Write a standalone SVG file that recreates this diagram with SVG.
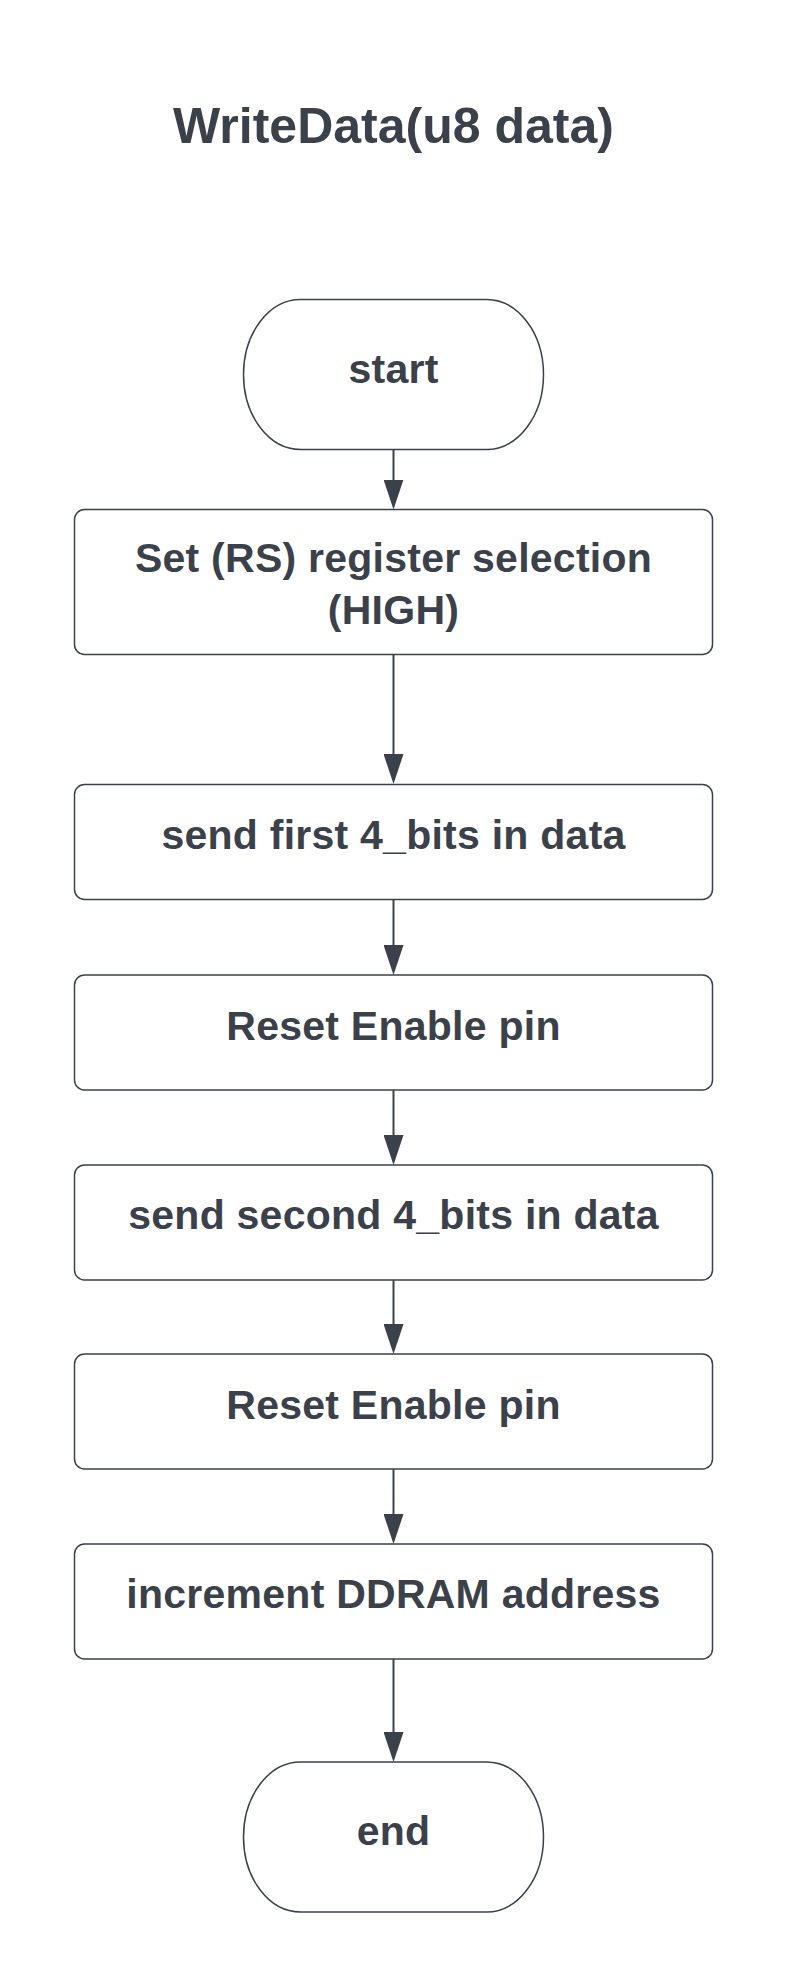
<svg xmlns="http://www.w3.org/2000/svg" width="788" height="1988" viewBox="0 0 788 1988">
  <style>
    .shape { fill: #ffffff; stroke: #3a414a; stroke-width: 1.5; }
    .label { font-family: "Liberation Sans", Arial, sans-serif; font-weight: bold; font-size: 41px; letter-spacing: 0.25px; fill: #3a414a; text-anchor: middle; }
    .title { font-family: "Liberation Sans", Arial, sans-serif; font-weight: bold; font-size: 50px; fill: #3a414a; text-anchor: middle; }
    .conn { stroke: #3a414a; stroke-width: 2; fill: none; marker-end: url(#arrow); }
  </style>
  <defs>
    <marker id="arrow" markerUnits="userSpaceOnUse" markerWidth="30" markerHeight="20" viewBox="0 0 30 20" refX="26" refY="10" orient="auto">
      <path d="M0,0 L30,10 L0,20 Z" fill="#3a414a"/>
    </marker>
  </defs>
  <rect width="788" height="1988" fill="#ffffff"/>

  <g id="title">
    <text class="title" x="393.5" y="143">WriteData(u8 data)</text>
  </g>

  <g id="connectors">
    <line class="conn" x1="393.5" y1="449" x2="393.5" y2="505.5"/>
    <line class="conn" x1="393.5" y1="654.5" x2="393.5" y2="780"/>
    <line class="conn" x1="393.5" y1="899" x2="393.5" y2="971"/>
    <line class="conn" x1="393.5" y1="1090" x2="393.5" y2="1161"/>
    <line class="conn" x1="393.5" y1="1280" x2="393.5" y2="1350"/>
    <line class="conn" x1="393.5" y1="1469" x2="393.5" y2="1540"/>
    <line class="conn" x1="393.5" y1="1659" x2="393.5" y2="1758"/>
  </g>

  <g id="start">
    <rect class="shape" x="243.5" y="299.5" width="300" height="150" rx="57" ry="75"/>
    <text class="label" x="393.5" y="383">start</text>
  </g>

  <g id="set-rs">
    <rect class="shape" x="74.5" y="509.5" width="638" height="145" rx="10" ry="10"/>
    <text class="label" x="393.5" y="572">Set (RS) register selection</text>
    <text class="label" x="393.5" y="624">(HIGH)</text>
  </g>

  <g id="send-first">
    <rect class="shape" x="74.5" y="784.5" width="638" height="115" rx="10" ry="10"/>
    <text class="label" x="393.5" y="849">send first 4_bits in data</text>
  </g>

  <g id="reset-enable-1">
    <rect class="shape" x="74.5" y="975" width="638" height="115" rx="10" ry="10"/>
    <text class="label" x="393.5" y="1040">Reset Enable pin</text>
  </g>

  <g id="send-second">
    <rect class="shape" x="74.5" y="1165" width="638" height="115" rx="10" ry="10"/>
    <text class="label" x="393.5" y="1229">send second 4_bits in data</text>
  </g>

  <g id="reset-enable-2">
    <rect class="shape" x="74.5" y="1354" width="638" height="115" rx="10" ry="10"/>
    <text class="label" x="393.5" y="1419">Reset Enable pin</text>
  </g>

  <g id="increment">
    <rect class="shape" x="74.5" y="1544" width="638" height="115" rx="10" ry="10"/>
    <text class="label" x="393.5" y="1608">increment DDRAM address</text>
  </g>

  <g id="end">
    <rect class="shape" x="243.5" y="1762" width="300" height="150" rx="57" ry="75"/>
    <text class="label" x="393.5" y="1845">end</text>
  </g>
</svg>
